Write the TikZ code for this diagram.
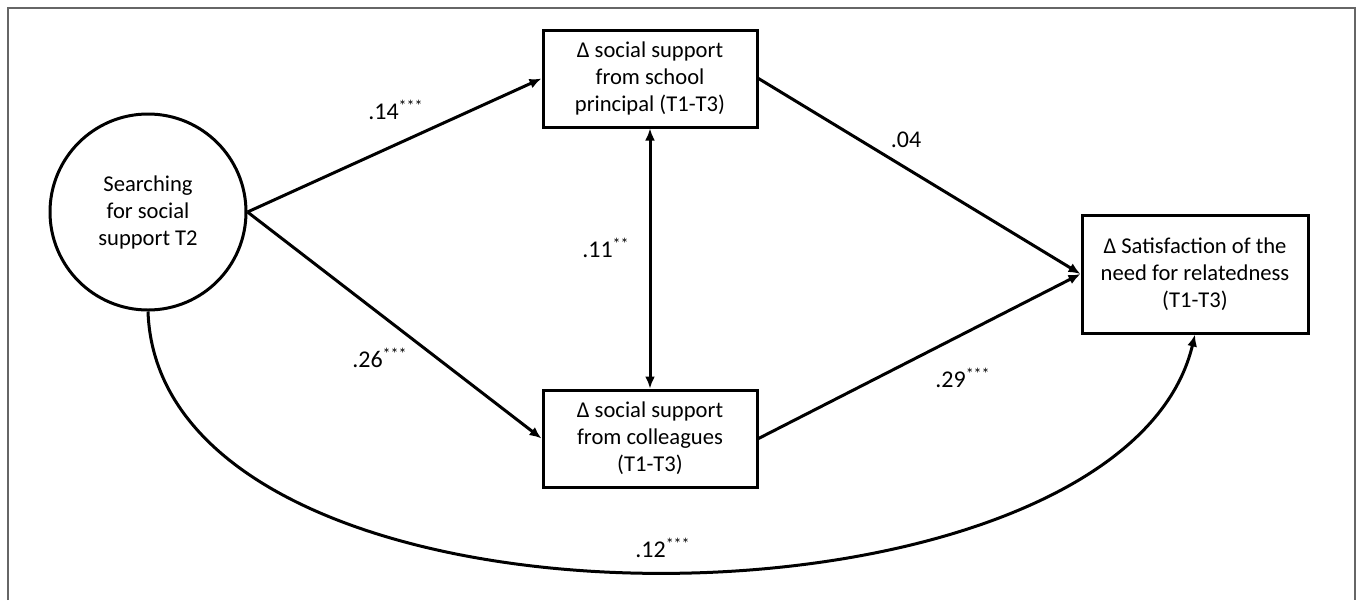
\documentclass[tikz,border=0pt]{standalone}
\usepackage{fontspec}
\setmainfont{Carlito}
\usetikzlibrary{arrows.meta}

\begin{document}
\begin{tikzpicture}[x=0.5pt,y=-0.5pt,
  font=\fontsize{11.3}{13.5}\selectfont,
  var/.style={draw,line width=1.5pt,align=center,inner sep=0pt},
  box/.style={var,rectangle,minimum width=107pt,minimum height=48.5pt},
  effect/.style={line width=1.5pt,-{Latex[length=6pt,width=5pt]}},
  coef/.style={inner sep=0pt,font=\fontsize{12}{14}\selectfont}]
\useasboundingbox (0,0) rectangle (1358,600);
\draw[line width=1pt,black!60] (8,600)--(8,8)--(1355,8)--(1355,600);
% variables
\node[var,circle,minimum size=98pt] (search) at (148,212) {Searching\\for social\\support T2};
\node[box] (principal) at (650,78.5) {Δ social support\\from school\\principal (T1-T3)};
\node[box] (colleagues) at (650,438.5) {Δ social support\\from colleagues\\(T1-T3)};
\node[box,minimum width=113pt,minimum height=59pt] (related) at (1195,274) {Δ Satisfaction of the\\need for relatedness\\(T1-T3)};
% paths
\draw[effect] (search.east)--(principal.west);
\draw[effect] (search.east)--(colleagues.west);
\draw[effect] (principal.east)--(related.west);
\draw[effect] (colleagues.east)--(related.west);
\draw[effect,{Latex[length=6pt,width=5pt]}-{Latex[length=6pt,width=5pt]}] (principal.south)--(colleagues.north);
\draw[effect] (search.south) .. controls (160,660) and (1120,650) .. (related.south);
% coefficients
\node[coef] (c14) at (396,110) {.14\textsuperscript{***}};
\node[coef] (c26) at (380,358) {.26\textsuperscript{***}};
\node[coef] (c11) at (606,248) {.11\textsuperscript{**}};
\node[coef] (c04) at (906,140) {.04};
\node[coef] (c29) at (963,378) {.29\textsuperscript{***}};
\node[coef] (c12) at (663,548) {.12\textsuperscript{***}};
\end{tikzpicture}
\end{document}
